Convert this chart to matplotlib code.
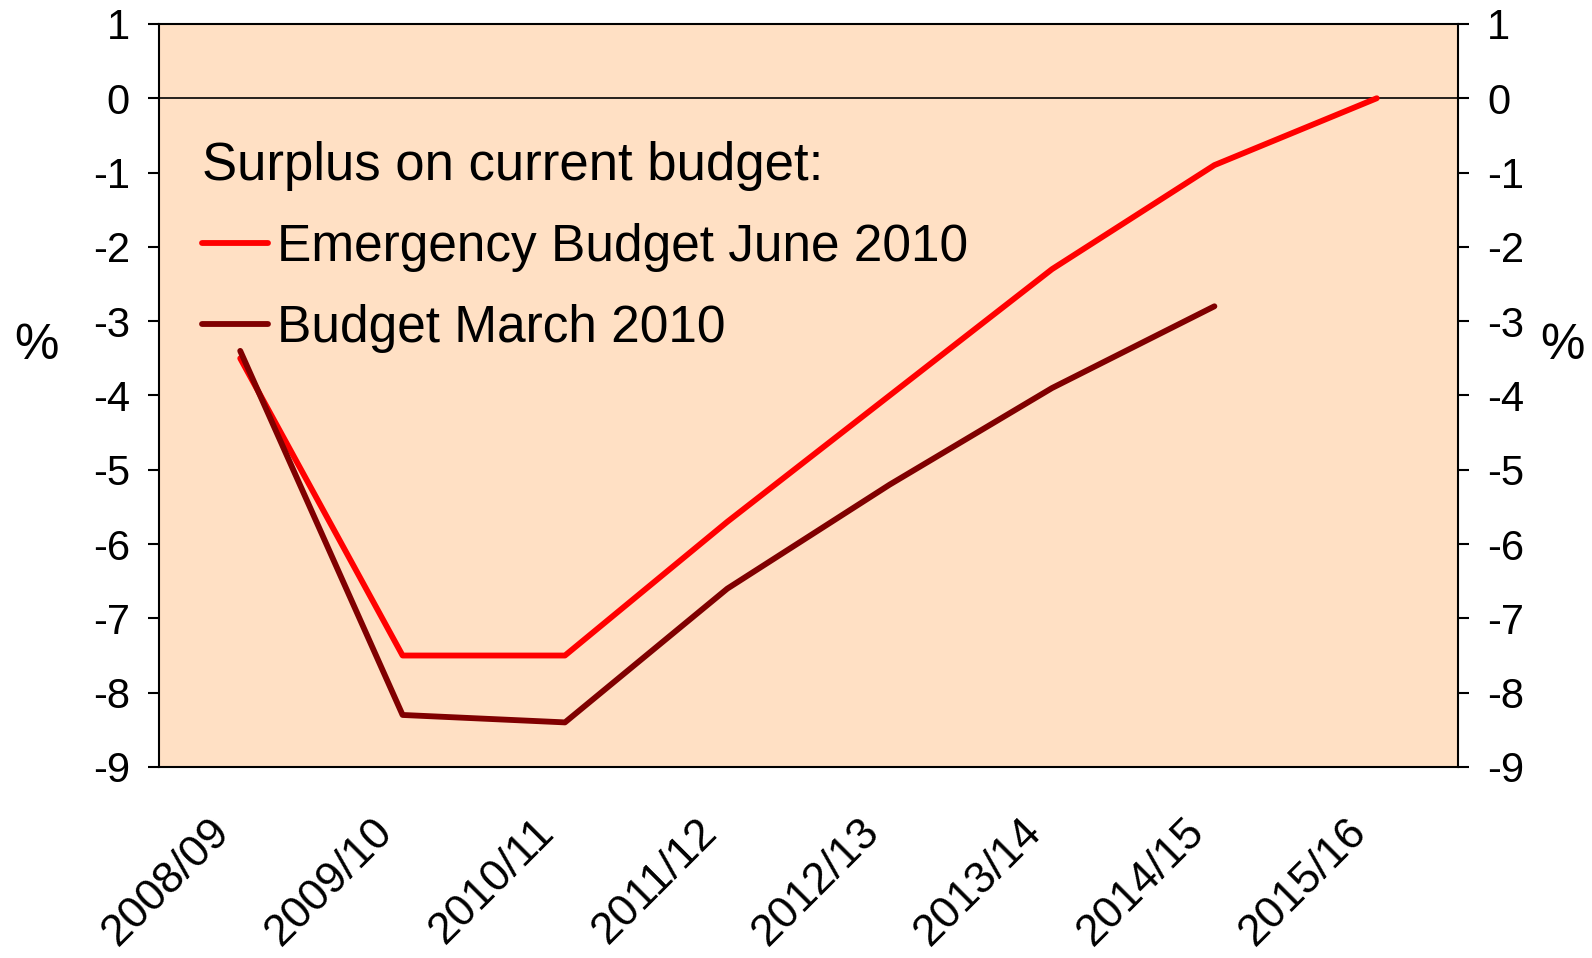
import matplotlib.pyplot as plt
import matplotlib.transforms as mtransforms
import numpy as np

plt.rcParams['font.family'] = ['Liberation Sans', 'DejaVu Sans']
plt.rcParams['axes.unicode_minus'] = False

years = ["2008/09", "2009/10", "2010/11", "2011/12", "2012/13",
         "2013/14", "2014/15", "2015/16"]
emergency_june = [-3.5, -7.5, -7.5, -5.7, -4.0, -2.3, -0.9, 0.0]
budget_march = [-3.4, -8.3, -8.4, -6.6, -5.2, -3.9, -2.8]

fig = plt.figure(figsize=(15.92, 9.58), dpi=100)
ax = fig.add_axes([0.0999, 0.1994, 0.8159, 0.7756])
ax.set_facecolor('#FFE0C4')

x = np.arange(len(years))
ax.axhline(0, color='black', lw=1.2, zorder=1)
ax.plot(x, emergency_june, color='#FF0000', lw=4.2,
        solid_capstyle='round', label='Emergency Budget June 2010', zorder=3)
ax.plot(x[:len(budget_march)], budget_march, color='#800000', lw=4.2,
        solid_capstyle='round', label='Budget March 2010', zorder=3)

ax.set_xlim(-0.5, len(years) - 0.5)
ax.set_ylim(-9, 1)
ax.set_yticks(np.arange(-9, 2, 1))
ax.set_xticks(x)
ax.set_xticklabels(years, rotation=45, ha='right', va='center',
                   rotation_mode='anchor', fontsize=32)
ax.tick_params(axis='x', length=0, pad=42)
# nudge the slanted labels to the left, like the original
shift = mtransforms.ScaledTranslation(-12 / 72, 0, fig.dpi_scale_trans)
for lab in ax.get_xticklabels():
    lab.set_transform(lab.get_transform() + shift)
ax.tick_params(axis='y', which='both', direction='out', length=8, width=1.5,
               labelsize=30, left=True, right=True, labelleft=True,
               labelright=True, pad=13)
for s in ax.spines.values():
    s.set_linewidth(1.5)

fig.text(0.0226, 0.639, '%', fontsize=36, ha='center', va='center')
fig.text(0.9815, 0.639, '%', fontsize=36, ha='center', va='center')

leg = ax.legend(loc='upper left', bbox_to_anchor=(0.033, 0.8425),
                title='Surplus on current budget:', title_fontsize=38,
                fontsize=37, frameon=False, borderpad=0, borderaxespad=0,
                handlelength=1.28, handletextpad=0.19, labelspacing=0.62,
                alignment='left')

fig.savefig('out.png', dpi=100)
